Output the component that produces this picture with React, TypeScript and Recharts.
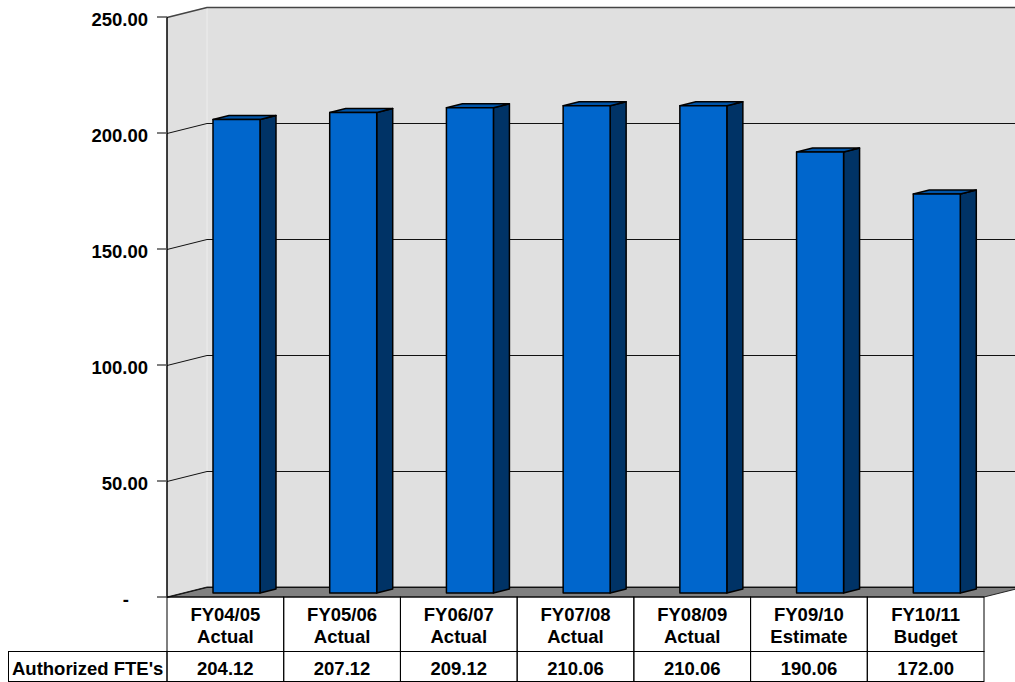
import React from "react";
import { ComposedChart, Bar, XAxis, YAxis, CartesianGrid } from "recharts";

const categoryYears = ["FY04/05", "FY05/06", "FY06/07", "FY07/08", "FY08/09", "FY09/10", "FY10/11"];
const categoryTypes = ["Actual", "Actual", "Actual", "Actual", "Actual", "Estimate", "Budget"];
const fteValues = [204.12, 207.12, 209.12, 210.06, 210.06, 190.06, 172.0];
const yTicks = [0, 50, 100, 150, 200, 250];
const rowLabel = "Authorized FTE's";

const data = categoryYears.map((y, i) => ({
  cat: `${y} ${categoryTypes[i]}`,
  fte: fteValues[i],
}));

const W = 1015;
const H = 682;
const PLOT_LEFT = 167;
const PLOT_TOP = 17;
const PLOT_RIGHT = 984;
const X_AXIS_H = 85;
const PLOT_BOTTOM = H - X_AXIS_H;
const DEPTH_X = 40;
const DEPTH_Y = 10;
const BAND = (PLOT_RIGHT - PLOT_LEFT) / categoryYears.length;
const HEADER_BOTTOM = 651;
const TABLE_BOTTOM = 681;
const FONT = "'Liberation Sans', Arial, Helvetica, sans-serif";
const FS = 18.5;

const BAR_DX = 11;
const BAR_DY = -4;
const BAR_SIDE_X = 16;
const BAR_SIDE_Y = 4;

const Bar3D = (props: any) => {
  const { x, y, width, height } = props;
  if (width == null || height == null) return null;
  const fx = x + BAR_DX;
  const fy = y + BAR_DY;
  const sx = BAR_SIDE_X;
  const sy = BAR_SIDE_Y;
  return (
    <g stroke="#000" strokeWidth={1.5} strokeLinejoin="round">
      <polygon
        points={`${fx + width},${fy} ${fx + width + sx},${fy - sy} ${fx + width + sx},${fy + height - sy} ${fx + width},${fy + height}`}
        fill="#003366"
      />
      <polygon
        points={`${fx},${fy} ${fx + sx},${fy - sy} ${fx + width + sx},${fy - sy} ${fx + width},${fy}`}
        fill="#0054A8"
      />
      <rect x={fx} y={fy} width={width} height={height} fill="#0066CC" />
    </g>
  );
};

const YTick = (props: any) => {
  const { y, payload } = props;
  const v = payload.value as number;
  const label = v === 0 ? "-" : v.toFixed(2);
  return (
    <text
      x={v === 0 ? 129 : 148}
      y={y + 9}
      textAnchor="end"
      fontFamily={FONT}
      fontWeight="bold"
      fontSize={FS}
      fill="#000"
    >
      {label}
    </text>
  );
};

const XTick = (props: any) => {
  const { x, index } = props;
  const left = x - BAND / 2;
  const textStyle = {
    fontFamily: FONT,
    fontWeight: "bold" as const,
    fontSize: FS,
    fill: "#000",
  };
  return (
    <g>
      {index === 0 && (
        <g>
          <rect
            x={8.5}
            y={HEADER_BOTTOM + 0.5}
            width={PLOT_LEFT - 8.5}
            height={TABLE_BOTTOM - HEADER_BOTTOM}
            fill="none"
            stroke="#000"
            strokeWidth={1}
          />
          <text x={12} y={675} {...textStyle}>
            {rowLabel}
          </text>
        </g>
      )}
      <rect
        x={left}
        y={PLOT_BOTTOM}
        width={BAND}
        height={HEADER_BOTTOM - PLOT_BOTTOM + 0.5}
        fill="none"
        stroke="#000"
        strokeWidth={1}
      />
      <rect
        x={left}
        y={HEADER_BOTTOM + 0.5}
        width={BAND}
        height={TABLE_BOTTOM - HEADER_BOTTOM}
        fill="none"
        stroke="#000"
        strokeWidth={1}
      />
      <text x={x} y={621} textAnchor="middle" {...textStyle}>
        {categoryYears[index]}
      </text>
      <text x={x} y={643} textAnchor="middle" {...textStyle}>
        {categoryTypes[index]}
      </text>
      <text x={x} y={675} textAnchor="middle" {...textStyle}>
        {fteValues[index].toFixed(2)}
      </text>
    </g>
  );
};

const GridLine = (props: any) => {
  const { x1, y1, index } = props;
  const isTop = Math.abs(y1 - PLOT_TOP) < 1;
  const yy = Math.round(y1) + 0.5;
  return (
    <polyline
      key={`g-${index}`}
      points={`${x1},${yy} ${x1 + DEPTH_X},${yy - DEPTH_Y} ${W + 20},${yy - DEPTH_Y}`}
      fill="none"
      stroke={isTop ? "#444" : "#111"}
      strokeWidth={isTop ? 1.5 : 1}
    />
  );
};

export default function App() {
  return (
    <div style={{ position: "absolute", left: 0, top: 0, width: W, height: H, background: "#fff" }}>
      <svg
        width={W}
        height={H}
        style={{ position: "absolute", left: 0, top: 0 }}
      >
        <polygon
          points={`${PLOT_LEFT},${PLOT_TOP} ${PLOT_LEFT + DEPTH_X},${PLOT_TOP - DEPTH_Y} ${PLOT_LEFT + DEPTH_X},${PLOT_BOTTOM - DEPTH_Y} ${PLOT_LEFT},${PLOT_BOTTOM}`}
          fill="#E0E0E0"
        />
        <rect
          x={PLOT_LEFT + DEPTH_X}
          y={PLOT_TOP - DEPTH_Y}
          width={W - PLOT_LEFT - DEPTH_X}
          height={PLOT_BOTTOM - PLOT_TOP}
          fill="#E0E0E0"
        />
        <line
          x1={PLOT_LEFT + DEPTH_X}
          x2={PLOT_LEFT + DEPTH_X}
          y1={PLOT_TOP - DEPTH_Y}
          y2={PLOT_BOTTOM - DEPTH_Y}
          stroke="#EDEDED"
          strokeWidth={1}
        />
        <polygon
          points={`${PLOT_LEFT},${PLOT_BOTTOM} ${PLOT_LEFT + DEPTH_X},${PLOT_BOTTOM - DEPTH_Y} ${PLOT_RIGHT + DEPTH_X},${PLOT_BOTTOM - DEPTH_Y} ${PLOT_RIGHT},${PLOT_BOTTOM}`}
          fill="#808080"
          stroke="#222"
          strokeWidth={1}
        />
      </svg>
      <div style={{ position: "absolute", left: 0, top: 0 }}>
        <ComposedChart
          width={W}
          height={H}
          data={data}
          margin={{ top: PLOT_TOP, right: W - PLOT_RIGHT, left: 0, bottom: 0 }}
        >
          <CartesianGrid vertical={false} horizontal={GridLine as any} />
          <Bar
            dataKey="fte"
            barSize={47}
            shape={Bar3D as any}
            isAnimationActive={false}
          />
          <XAxis
            dataKey="cat"
            height={X_AXIS_H}
            axisLine={false}
            tickLine={false}
            interval={0}
            tick={XTick as any}
          />
          <YAxis
            width={PLOT_LEFT}
            domain={[0, 250]}
            ticks={yTicks}
            interval={0}
            tickSize={10}
            axisLine={{ stroke: "#000", strokeWidth: 1.5 }}
            tickLine={{ stroke: "#555", strokeWidth: 1.5 }}
            tick={YTick as any}
          />
        </ComposedChart>
      </div>
    </div>
  );
}
